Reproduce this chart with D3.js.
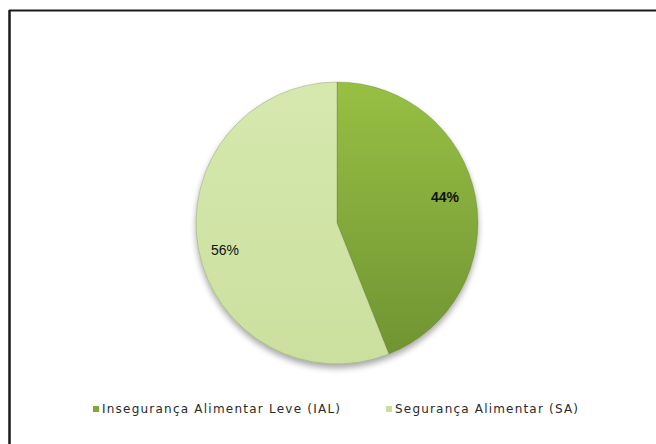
<!DOCTYPE html>
<html>
<head>
<meta charset="utf-8">
<script src="https://cdn.jsdelivr.net/npm/d3@7"></script>
<style>
  html, body { margin: 0; padding: 0; background: #fff; }
  svg { display: block; }
</style>
</head>
<body>
<svg id="chart" width="656" height="444"></svg>
<script>
// Food security categories and their shares (%)
const categories = ["Insegurança Alimentar Leve (IAL)", "Segurança Alimentar (SA)"];
const values = [44, 56];
const labels = ["44%", "56%"];
const colorsTop = ["#97c044", "#d6e8ae"];
const colorsBottom = ["#6f9232", "#cbe09f"];
const legendColors = ["#7fa83a", "#c9df9c"];

const svg = d3.select("#chart");
const W = 656, H = 444;
const cx = 337, cy = 223, r = 141;

const defs = svg.append("defs");

// Vertical gradient per slice, spanning the pie's height
categories.forEach((c, i) => {
  const g = defs.append("linearGradient")
    .attr("id", "grad" + i)
    .attr("gradientUnits", "userSpaceOnUse")
    .attr("x1", 0).attr("y1", -r).attr("x2", 0).attr("y2", r);
  g.append("stop").attr("offset", "0%").attr("stop-color", colorsTop[i]);
  g.append("stop").attr("offset", "100%").attr("stop-color", colorsBottom[i]);
});

// Soft drop shadow below the pie
const f = defs.append("filter").attr("id", "shadow")
  .attr("x", "-20%").attr("y", "-20%").attr("width", "140%").attr("height", "150%");
f.append("feGaussianBlur").attr("in", "SourceAlpha").attr("stdDeviation", 3).attr("result", "b");
f.append("feOffset").attr("in", "b").attr("dx", 0).attr("dy", 4).attr("result", "o");
f.append("feComponentTransfer").attr("in", "o").attr("result", "s")
  .append("feFuncA").attr("type", "linear").attr("slope", 0.35);
const m = f.append("feMerge");
m.append("feMergeNode").attr("in", "s");
m.append("feMergeNode").attr("in", "SourceGraphic");

// Frame (top and left edges)
svg.append("line").attr("x1", 9).attr("y1", 10.5).attr("x2", W).attr("y2", 10.5)
  .attr("stroke", "#1a1a1a").attr("stroke-width", 2);
svg.append("line").attr("x1", 9.5).attr("y1", 10).attr("x2", 9.5).attr("y2", H)
  .attr("stroke", "#1a1a1a").attr("stroke-width", 2.5);

const pie = d3.pie().sort(null).value(d => d)(values);
const arc = d3.arc().innerRadius(0).outerRadius(r);

const g = svg.append("g")
  .attr("transform", `translate(${cx},${cy})`)
  .attr("filter", "url(#shadow)");

g.selectAll("path.slice")
  .data(pie)
  .join("path")
  .attr("class", "slice")
  .attr("d", arc)
  .attr("fill", (d, i) => `url(#grad${i})`)
  .attr("stroke", "rgba(90,110,50,0.35)")
  .attr("stroke-width", 0.8);

// Percentage labels
const labelPos = [[108, -25], [-112, 28]];
svg.selectAll("text.pct")
  .data(pie)
  .join("text")
  .attr("class", "pct")
  .attr("x", (d, i) => cx + labelPos[i][0])
  .attr("y", (d, i) => cy + labelPos[i][1])
  .attr("text-anchor", "middle")
  .attr("dominant-baseline", "middle")
  .attr("font-family", "Liberation Sans, Arial, sans-serif")
  .attr("font-size", 14)
  .attr("font-weight", (d, i) => i === 0 ? "bold" : "normal")
  .attr("fill", "#111")
  .text((d, i) => labels[i]);

// Legend
const legendX = [93, 386];
const legendTextWidth = [238, 183];
const lg = svg.selectAll("g.leg")
  .data(categories)
  .join("g")
  .attr("class", "leg")
  .attr("transform", (d, i) => `translate(${legendX[i]},409)`);
lg.append("rect").attr("x", 0).attr("y", -3).attr("width", 6).attr("height", 6)
  .attr("fill", (d, i) => legendColors[i]);
lg.append("text")
  .attr("x", 9).attr("y", 0.5)
  .attr("dominant-baseline", "middle")
  .attr("font-family", "DejaVu Sans, Verdana, sans-serif")
  .attr("font-size", 12)
  .attr("textLength", (d, i) => legendTextWidth[i])
  .attr("lengthAdjust", "spacing")
  .attr("fill", "#2a2a2a")
  .text(d => d);
</script>
</body>
</html>
